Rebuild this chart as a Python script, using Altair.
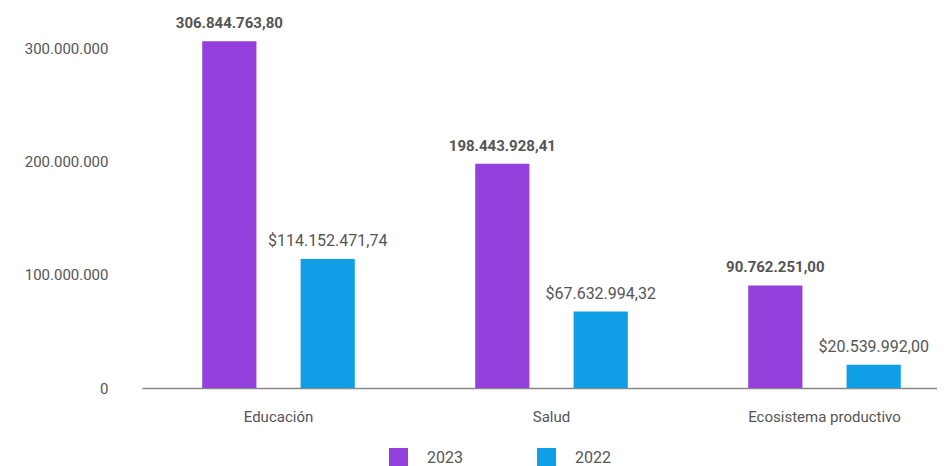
import altair as alt
import pandas as pd

categories = ["Educación", "Salud", "Ecosistema productivo"]
years = ["2023", "2022"]
values_2023 = [306844763.80, 198443928.41, 90762251.00]
values_2022 = [114152471.74, 67632994.32, 20539992.00]
y_ticks = [0, 100000000, 200000000, 300000000]

rows = []
for c, a, b in zip(categories, values_2023, values_2022):
    rows.append({"cat": c, "year": "2023", "value": a})
    rows.append({"cat": c, "year": "2022", "value": b})
df = pd.DataFrame(rows)

PURPLE = "#9440DD"
BLUE = "#109FE7"
FONT = "Roboto"

x_enc = alt.X("cat:N", sort=categories, title=None,
              scale=alt.Scale(range=[0, 819], paddingInner=0, paddingOuter=0),
              axis=alt.Axis(labelAngle=0, ticks=False, labelFontSize=15, labelColor="#555555",
                            labelPadding=21, domainColor="#888888", domainWidth=1.5, labelFont=FONT))
xoff = alt.XOffset("year:N", sort=years,
                   scale=alt.Scale(paddingInner=0.449, paddingOuter=0.612))
y_enc = alt.Y("value:Q", title=None,
              scale=alt.Scale(domain=[0, 330000000], nice=False),
              axis=alt.Axis(values=y_ticks, format=",d", domain=False, ticks=False, grid=False,
                            labelFontSize=15, labelColor="#555555", labelPadding=34, labelFont=FONT))

bars = alt.Chart(df).mark_bar().encode(
    x=x_enc, xOffset=xoff, y=y_enc,
    color=alt.Color("year:N", sort=years,
                    scale=alt.Scale(domain=years, range=[PURPLE, BLUE]),
                    legend=alt.Legend(title=None, orient="none", legendX=247, legendY=433,
                                      direction="horizontal", symbolType="square",
                                      symbolSize=361, symbolStrokeWidth=0, labelFontSize=16,
                                      labelColor="#555555", labelOffset=19, columnPadding=74,
                                      labelFont=FONT)),
)

lab23 = alt.Chart(df).transform_filter(alt.datum.year == "2023").mark_text(
    baseline="alphabetic", dy=-13, fontSize=15, fontWeight="bold", color="#555555", font=FONT
).encode(x=x_enc, xOffset=xoff, y=y_enc, text=alt.Text("value:Q", format=",.2f"))

lab22 = alt.Chart(df).transform_filter(alt.datum.year == "2022").mark_text(
    baseline="alphabetic", dy=-13, fontSize=16, color="#555555", font=FONT
).encode(x=x_enc, xOffset=xoff, y=y_enc, text=alt.Text("value:Q", format="$,.2f"))

chart = alt.layer(bars, lab23, lab22).properties(
    width=795, height=373,
    autosize=alt.AutoSizeParams(type="none"),
    padding={"left": 134, "top": 7, "right": 0, "bottom": 78},
).configure(
    locale={"number": {"decimal": ",", "thousands": ".", "grouping": [3], "currency": ["$", ""]}}
).configure_view(stroke=None)

chart.save("out.html", embed_options={"renderer": "svg", "actions": False})
